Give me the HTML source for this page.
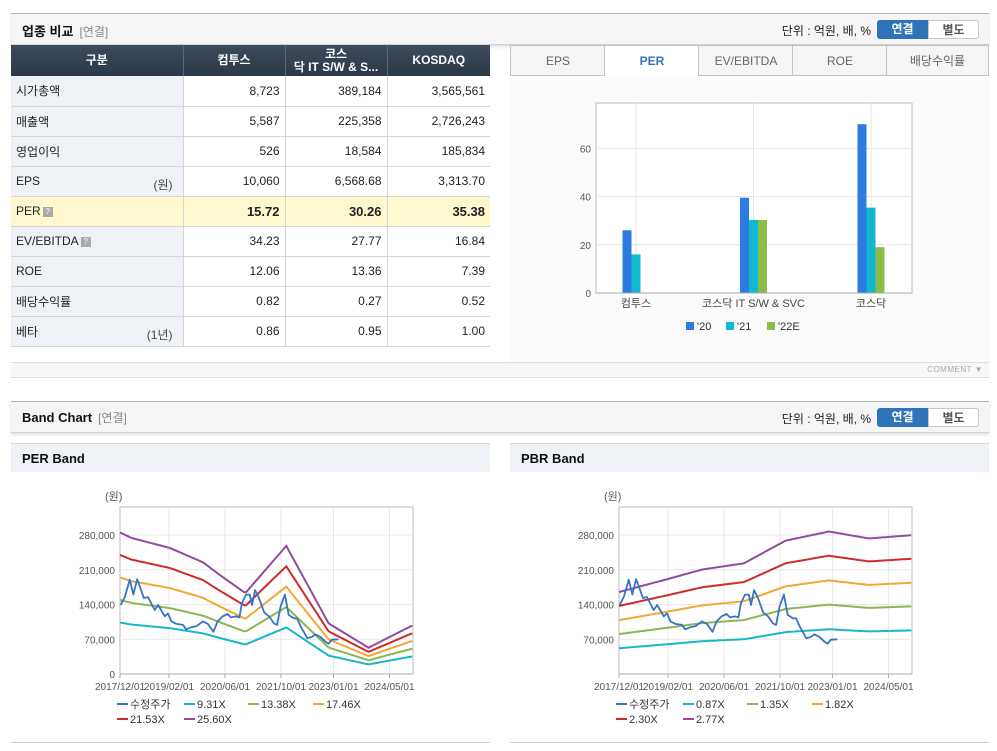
<!DOCTYPE html>
<html><head><meta charset="utf-8">
<style>
*{box-sizing:border-box;margin:0;padding:0}
body{width:997px;height:751px;background:#fff;font-family:"Liberation Sans","Noto Sans CJK KR",sans-serif;font-size:12px;color:#222;position:relative;overflow:hidden}
.abs{position:absolute}
.hdr{left:11px;width:978px;height:32px;background:#f5f5f5;border-top:1px solid #b3b3b3;border-bottom:1px solid #d0d0d0;box-shadow:0 2px 3px rgba(0,0,0,.12)}
.hdr .t{position:absolute;left:11px;top:7px;font-size:13px;font-weight:bold;color:#111}
.hdr .t span{font-weight:normal;color:#888;font-size:12px;margin-left:6px}
.hdr .u{position:absolute;right:118px;top:8px;font-size:12px;color:#222}
.btn{position:absolute;top:6px;height:19px;width:51px;font-size:12px;font-weight:bold;text-align:center;line-height:18px}
.b1{right:61px;background:#2f73b8;color:#fff;border-radius:3px 0 0 3px}
.b2{right:10px;background:#fff;color:#555;border:1px solid #c8c8c8;border-radius:0 3px 3px 0}
table{border-collapse:collapse;position:absolute;left:11px;top:45px;width:479px}
th{background:linear-gradient(#3e4b5b,#2c3846);color:#fff;font-size:12px;height:31px;border-left:1px solid #5a6675;font-weight:bold;line-height:13px}
td{height:30px;border-bottom:1px solid #d5d5d5;border-left:1px solid #d5d5d5;text-align:right;padding-right:5px;font-size:12px}
td.l{background:#eef1f6;text-align:left;padding-left:5px;border-left:none;position:relative}
td.l i{font-style:normal;position:absolute;right:10px;top:9px;color:#444}
tr.hl td{background:#fff8cf;font-weight:bold;font-size:13px}
tr.hl td.l{font-weight:normal;font-size:12px}
.q{display:inline-block;width:10px;height:10px;background:#aaa;vertical-align:1px;margin-left:2px;color:#fff;font-size:8px;line-height:10px;text-align:center}
.tab{top:45px;height:31px;width:96px;background:#f5f5f5;border:1px solid #c4c4c4;text-align:center;line-height:30px;color:#666;font-size:12px}
.tab.on{background:#fff;color:#2f73b8;font-weight:bold;border-bottom:none}
.sub{height:29px;background:#eef2f7;border-top:1px solid #d6d6d6;font-weight:bold;font-size:13px;padding-left:11px;line-height:30px;color:#111}
svg text{font-family:"Liberation Sans","Noto Sans CJK KR",sans-serif}
</style></head><body>

<div class="abs hdr" style="top:13px">
 <div class="t">업종 비교<span>[연결]</span></div>
 <div class="u">단위 : 억원, 배, %</div>
 <div class="btn b1">연결</div>
 <div class="btn b2">별도</div>
</div>

<table>
<tr><th style="width:172px;border-left:none">구분</th><th style="width:102px">컴투스</th><th style="width:102px">코스<br>닥 IT S/W &amp; S...</th><th>KOSDAQ</th></tr>
<tr><td class="l">시가총액</td><td>8,723</td><td>389,184</td><td>3,565,561</td></tr>
<tr><td class="l">매출액</td><td>5,587</td><td>225,358</td><td>2,726,243</td></tr>
<tr><td class="l">영업이익</td><td>526</td><td>18,584</td><td>185,834</td></tr>
<tr><td class="l">EPS<i>(원)</i></td><td>10,060</td><td>6,568.68</td><td>3,313.70</td></tr>
<tr class="hl"><td class="l">PER<span class="q">?</span></td><td>15.72</td><td>30.26</td><td>35.38</td></tr>
<tr><td class="l">EV/EBITDA<span class="q">?</span></td><td>34.23</td><td>27.77</td><td>16.84</td></tr>
<tr><td class="l">ROE</td><td>12.06</td><td>13.36</td><td>7.39</td></tr>
<tr><td class="l">배당수익률</td><td>0.82</td><td>0.27</td><td>0.52</td></tr>
<tr><td class="l">베타<i>(1년)</i></td><td>0.86</td><td>0.95</td><td>1.00</td></tr>
</table>

<div class="abs tab" style="left:510px">EPS</div>
<div class="abs tab on" style="left:604px">PER</div>
<div class="abs tab" style="left:698px;width:96px">EV/EBITDA</div>
<div class="abs tab" style="left:792px">ROE</div>
<div class="abs tab" style="left:886px;width:103px">배당수익률</div>
<div class="abs" style="left:510px;top:76px;width:479px;height:286px;background:#fbfbfb"></div>
<svg id="bar" class="abs" style="left:0;top:0" width="997" height="380"></svg>

<div class="abs" style="left:11px;top:362px;width:978px;height:16px;background:#f7f7f7;border-top:1px solid #ddd;border-bottom:1px solid #ddd">
 <span style="position:absolute;right:6px;top:2px;font-size:8px;color:#aaa;letter-spacing:.5px">COMMENT ▼</span>
</div>

<div class="abs hdr" style="top:401px">
 <div class="t">Band Chart<span>[연결]</span></div>
 <div class="u">단위 : 억원, 배, %</div>
 <div class="btn b1">연결</div>
 <div class="btn b2">별도</div>
</div>
<div class="abs sub" style="left:11px;top:443px;width:479px">PER Band</div>
<div class="abs sub" style="left:510px;top:443px;width:479px">PBR Band</div>
<div class="abs" style="left:11px;top:742px;width:479px;height:1px;background:#ccc"></div>
<div class="abs" style="left:510px;top:742px;width:479px;height:1px;background:#ccc"></div>
<svg id="band" class="abs" style="left:0;top:0" width="997" height="751"></svg>

<script>
// ---- PER bar chart data ----
const barCategories=["컴투스","코스닥 IT S/W & SVC","코스닥"];
const barSeriesNames=["'20","'21","'22E"];
const barS20=[26,39.5,70];
const barS21=[16,30.3,35.4];
const barS22=[null,30.3,19];
const barTicks=[0,20,40,60];

// ---- Band data ----
const priceMonths=[0.2,1.4,2.8,3.8,4.9,5.7,6.8,8.0,9.9,10.9,12.8,13.7,14.7,16.1,18.0,18.9,20.3,21.8,23.7,25.1,26.7,27.9,29.3,30.7,31.7,33.1,34.1,34.8,36.0,37.1,37.7,38.6,39.7,41.2,42.6,44.0,44.9,45.9,47.1,48.2,49.7,50.6,51.6,52.5,53.5,54.9,55.8,57.2,58.7,59.6,60.5,62.4];
const priceValues=[139,156,190,160,191,176,153,155,129,139,116,122,106,101,99,90,94,96,106,101,85,106,116,121,114,116,114,142,160,160,139,169,153,124,116,102,99,136,160,119,112,112,96,85,72,75,80,75,65,61,69,70];
const epsMonths=[0,3.3,14.2,23.7,28.4,35.8,47.5,59.6,71,83.3];
const epsValues=[11133,10703,9922,8789,7813,6367,10078,3984,2070,3789];
const perMultiples=[9.31,13.38,17.46,21.53,25.60];
const bpsMonths=[0,14.3,23.8,35.7,47.6,60,71.4,83.8];
const bpsValues=[59600,69300,76000,80500,97000,103600,98600,101000];
const pbrMultiples=[0.87,1.35,1.82,2.30,2.77];
const bandYTicks=[0,70000,140000,210000,280000];
const bandXTickMonths=[0,14,30,46,61,77];
const bandXTickLabels=["2017/12/01","2019/02/01","2020/06/01","2021/10/01","2023/01/01","2024/05/01"];

const NS="http://www.w3.org/2000/svg";
function mk(svg,tag,at,txt){const e=document.createElementNS(NS,tag);for(const k in at)e.setAttribute(k,at[k]);if(txt!==undefined)e.textContent=txt;svg.appendChild(e);return e;}

// ---- bar chart ----
(function(){
 const svg=document.getElementById('bar');
 const L=596,R=912,T=103,B=293,yMax=78.8;
 const y=v=>B-(v/yMax)*(B-T);
 const cx=[636,753.5,871];
 const colors=["#2b7be0","#10b9d0","#8cbd48"];
 mk(svg,'rect',{x:L,y:T,width:R-L,height:B-T,fill:'#fff',stroke:'#bbb'});
 barTicks.forEach(t=>{
  const g=mk(svg,'line',{x1:L,x2:R,y1:y(t),y2:y(t),stroke:t?'#e6e6e6':'#aaa'});
  
  
  const tx=mk(svg,'text',{x:L-5,y:y(t)+4,'text-anchor':'end','font-size':10,fill:'#555'},t);
  
  
 });
 barCategories.forEach((c,i)=>{
  mk(svg,'line',{x1:cx[i],x2:cx[i],y1:T,y2:B,stroke:'#e6e6e6'});
  const tx=mk(svg,'text',{x:cx[i],y:B+14,'text-anchor':'middle','font-size':11,fill:'#444'},c);
  
  
 });
 [barS20,barS21,barS22].forEach((s,si)=>{
  s.forEach((v,i)=>{
   if(v==null)return;
   const r=mk(svg,'rect',{x:cx[i]-13.5+si*9,y:y(v),width:9,height:B-y(v),fill:colors[si]});
   
   
  });
 });
 mk(svg,'line',{x1:L,x2:R,y1:B,y2:B,stroke:'#aaa'});
 const lx=[686,726,767];
 barSeriesNames.forEach((n,i)=>{
  const s=mk(svg,'rect',{x:lx[i],y:322,width:8,height:8,fill:colors[i]});
  
  
  const t=mk(svg,'text',{x:lx[i]+11,y:330,'font-size':11,fill:'#333'},n);
  
  
 });
})();

// ---- band charts ----
const bandColors=["#17b6c8","#8cb553","#f2a735","#cf2b2b","#8e4d9d"];
function interp(ms,vs,m){if(m<=ms[0])return vs[0];for(let i=1;i<ms.length;i++){if(m<=ms[i]){const f=(m-ms[i-1])/(ms[i]-ms[i-1]);return vs[i-1]+f*(vs[i]-vs[i-1]);}}return vs[vs.length-1];}
function band(x0,baseM,baseV,mults,name,showZero,suffix){
 const svg=document.getElementById('band');
 const L=x0,R=x0+293,T=507,B=674,endM=83.7;
 const x=m=>L+m*3.5;
 const y=v=>B-v/70000*34.75;
 mk(svg,'rect',{x:L,y:T,width:R-L,height:B-T,fill:'#fff',stroke:'#bbb'});
 const u=mk(svg,'text',{x:L-15,y:500,'font-size':11,fill:'#555'},'(원)');
 
 
 bandYTicks.forEach(t=>{
  if(t)mk(svg,'line',{x1:L,x2:R,y1:y(t),y2:y(t),stroke:'#e8e8e8'});
  if(t||showZero){
   const tx=mk(svg,'text',{x:L-5,y:y(t)+4,'text-anchor':'end','font-size':10,fill:'#555'},t.toLocaleString('en-US'));
   
   
  }
 });
 bandXTickMonths.forEach((m,i)=>{
  if(m)mk(svg,'line',{x1:x(m),x2:x(m),y1:T,y2:B,stroke:'#e8e8e8'});
  mk(svg,'line',{x1:x(m),x2:x(m),y1:B,y2:B+4,stroke:'#aaa'});
  const tx=mk(svg,'text',{x:x(m),y:B+16,'text-anchor':'middle','font-size':10,fill:'#555'},bandXTickLabels[i]);
  
  
 });
 mk(svg,'line',{x1:L,x2:R,y1:B,y2:B,stroke:'#aaa'});
 mults.forEach((mu,i)=>{
  const pts=[];
  for(let m=0;m<=endM+0.01;m+=0.5){pts.push(x(Math.min(m,endM)).toFixed(1)+','+y(mu*interp(baseM,baseV,m)).toFixed(1));}
  const p=mk(svg,'polyline',{points:pts.join(' '),fill:'none',stroke:bandColors[i],'stroke-width':2});
  
  
 });
 const pp=priceMonths.map((m,i)=>x(m).toFixed(1)+','+y(priceValues[i]*1000).toFixed(1)).join(' ');
 const pl=mk(svg,'polyline',{points:pp,fill:'none',stroke:'#3674c6','stroke-width':1.8,'stroke-linejoin':'round'});
 
 
 const labels=['수정주가'].concat(mults.map(m=>m.toFixed(2)+suffix));
 const cols=['#3674c6'].concat(bandColors);
 const pos=[[x0-3,708],[x0+64,708],[x0+128,708],[x0+193,708],[x0-3,723],[x0+64,723]];
 labels.forEach((lb,i)=>{
  mk(svg,'line',{x1:pos[i][0],x2:pos[i][0]+11,y1:pos[i][1]-4,y2:pos[i][1]-4,stroke:cols[i],'stroke-width':2});
  const t=mk(svg,'text',{x:pos[i][0]+13,y:pos[i][1],'font-size':11,fill:'#333'},lb);
  
  
 });
}
band(120,epsMonths,epsValues,perMultiples,'per',true,'X');
band(619,bpsMonths,bpsValues,pbrMultiples,'pbr',false,'X');
</script>
</body></html>
